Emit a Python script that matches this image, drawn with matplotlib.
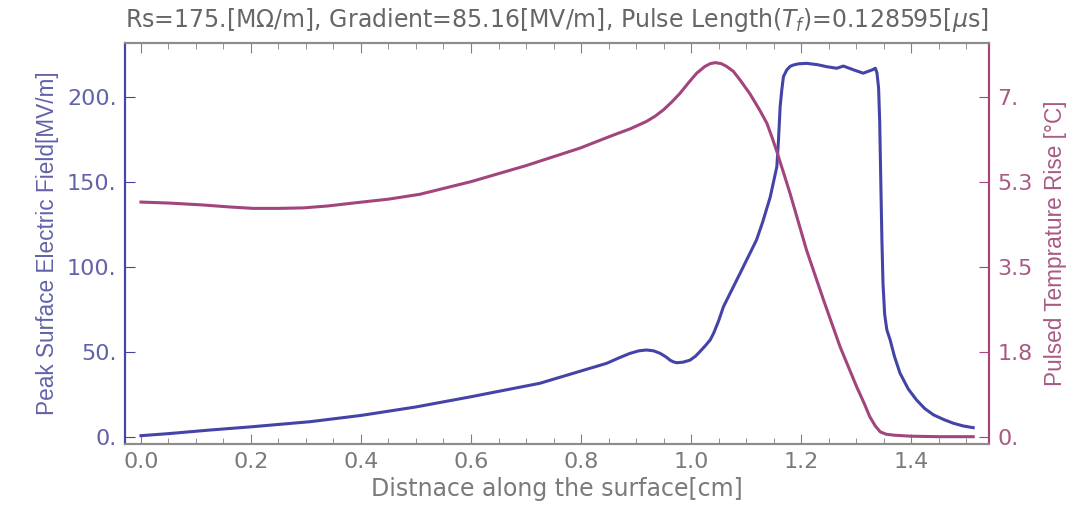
import matplotlib
matplotlib.use("Agg")
import matplotlib.pyplot as plt
from matplotlib.ticker import MultipleLocator

plt.rcParams['font.family'] = ['DejaVu Sans']
plt.rcParams['mathtext.fontset'] = 'dejavusans'

# peak surface field along the surface
x_field = [0, 0.05, 0.125, 0.2, 0.307, 0.4, 0.5, 0.6, 0.725, 0.786, 0.847, 0.87,
           0.889, 0.905, 0.919, 0.932, 0.944, 0.955, 0.962, 0.968, 0.974, 0.985,
           0.998, 1.008, 1.016, 1.026, 1.035, 1.041, 1.05, 1.059, 1.089, 1.119,
           1.13, 1.144, 1.156, 1.159, 1.162, 1.165, 1.168, 1.174, 1.18, 1.186,
           1.195, 1.21, 1.23, 1.247, 1.265, 1.277, 1.296, 1.313, 1.329, 1.335,
           1.338, 1.341, 1.343, 1.345, 1.347, 1.349, 1.352, 1.356, 1.362, 1.37,
           1.38, 1.395, 1.41, 1.425, 1.441, 1.46, 1.477, 1.495, 1.513]
e_field = [0.6, 1.8, 3.9, 5.8, 8.8, 12.5, 17.5, 23.5, 31.4, 37.3, 43.2, 46.5,
           49, 50.5, 51, 50.5, 49, 46.8, 45, 44, 43.5, 43.8,
           45, 47.3, 50, 53.5, 57, 60.8, 68, 76.5, 96, 115.7,
           126, 141, 158.8, 174.5, 194, 204, 211.8, 215.7, 217.8, 218.6,
           219.3, 219.6, 218.8, 217.6, 216.7, 218, 215.7, 213.8, 215.7, 216.7,
           214, 205, 185, 150, 115.7, 90, 72, 62.8, 56.9, 47,
           37.3, 28, 21.6, 16.5, 12.8, 10, 7.9, 6.3, 5.3]

# pulsed temperature rise
x_temp = [0, 0.05, 0.113, 0.16, 0.204, 0.25, 0.295, 0.34, 0.386, 0.45, 0.507,
          0.6, 0.7, 0.798, 0.859, 0.89, 0.919, 0.935, 0.95, 0.965, 0.98, 0.995,
          1.01, 1.025, 1.035, 1.044, 1.055, 1.065, 1.077, 1.09, 1.107, 1.125,
          1.138, 1.147, 1.156, 1.18, 1.21, 1.241, 1.271, 1.301, 1.315, 1.325,
          1.335, 1.344, 1.355, 1.37, 1.4, 1.45, 1.513]
t_rise = [4.83, 4.81, 4.77, 4.73, 4.70, 4.70, 4.71, 4.75, 4.81, 4.89, 4.99,
          5.25, 5.58, 5.94, 6.21, 6.34, 6.49, 6.60, 6.73, 6.89, 7.07, 7.28,
          7.48, 7.62, 7.68, 7.70, 7.68, 7.62, 7.52, 7.33, 7.06, 6.72,
          6.45, 6.17, 5.87, 5.01, 3.84, 2.81, 1.85, 1.03, 0.68, 0.41,
          0.22, 0.10, 0.05, 0.03, 0.01, 0.0, 0.0]

x_ticks = [0.0, 0.2, 0.4, 0.6, 0.8, 1.0, 1.2, 1.4]
x_labels = ['0.0', '0.2', '0.4', '0.6', '0.8', '1.0', '1.2', '1.4']
e_ticks = [0, 50, 100, 150, 200]
e_labels = ['0.', '50.', '100.', '150.', '200.']
t_ticks = [0, 1.75, 3.5, 5.25, 7]
t_labels = ['0.', '1.8', '3.5', '5.3', '7.']

blue = '#4444a8'
mag = '#a2457c'
blue_txt = '#6262aa'
mag_txt = '#a85a85'
gray = '#7a7a7a'

fig = plt.figure(figsize=(10.87, 5.09), dpi=100)
ax = fig.add_axes([0.115, 0.1277, 0.795, 0.7873])
ax2 = ax.twinx()

ax.plot(x_field, e_field, color=blue, lw=2.2, solid_joinstyle='round')
ax2.plot(x_temp, t_rise, color=mag, lw=2.2, solid_joinstyle='round')

ymin, ymax = -4.3, 231.4
ax.set_ylim(ymin, ymax)
ax2.set_ylim(ymin * 0.035, ymax * 0.035)
ax.set_xlim(-0.029, 1.542)

ax.set_xticks(x_ticks)
ax.set_xticklabels(x_labels)
ax.xaxis.set_minor_locator(MultipleLocator(0.05))
ax.set_yticks(e_ticks)
ax.set_yticklabels(e_labels)
ax2.set_yticks(t_ticks)
ax2.set_yticklabels(t_labels)

fs = 16
ax.tick_params(axis='x', which='both', direction='in', top=True, colors='#808080',
               labelsize=fs, labelcolor=gray, pad=6)
ax.tick_params(axis='x', which='major', length=7)
ax.tick_params(axis='x', which='minor', length=4)
ax.tick_params(axis='y', direction='in', length=7, color=blue, labelcolor=blue_txt,
               labelsize=fs, pad=6)
ax2.tick_params(axis='y', direction='in', length=7, color=mag, labelcolor=mag_txt,
                labelsize=fs, pad=6)

for a in (ax, ax2):
    a.spines['top'].set_color('#8c8c8c')
    a.spines['bottom'].set_color('#8c8c8c')
    a.spines['left'].set_color(blue)
    a.spines['right'].set_color(mag)
    for s in a.spines.values():
        s.set_linewidth(1.5)

ax.set_xlabel('Distnace along the surface[cm]', fontsize=17, color=gray, labelpad=3)
ax.set_ylabel('Peak Surface Electric Field[MV/m]', fontsize=16.3, color=blue_txt,
              labelpad=6, family='Liberation Sans')
ax2.set_ylabel('Pulsed Temprature Rise [°C]', fontsize=16.3, color=mag_txt,
               labelpad=8, family='Liberation Sans')
ax.set_title(r'Rs=175.[MΩ/m], Gradient=85.16[MV/m], Pulse Length($T_f$)=0.128595[$\mu$s]',
             fontsize=17, color='#666666', pad=12)

fig.savefig('out.png', dpi=100)
